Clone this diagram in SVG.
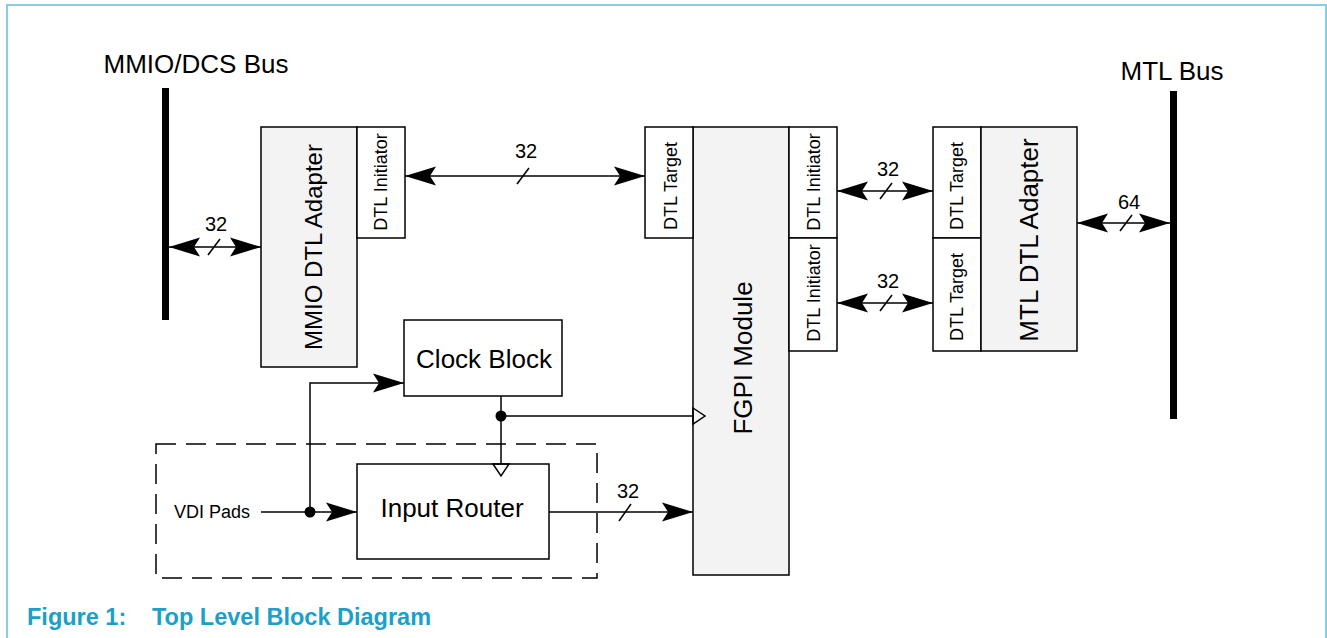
<svg xmlns="http://www.w3.org/2000/svg" width="1327" height="638" viewBox="0 0 1327 638">
<style>
.frame{stroke:#86cfe0;stroke-width:2;fill:none}
.box{stroke:#000;stroke-width:1.5;fill:#fff}
.grey{fill:#f3f3f3}
.bus{fill:#000}
.t{font-family:"Liberation Sans",Arial,sans-serif;fill:#000}
.big{font-size:26px}
.mid{font-size:24px}
.sm{font-size:18px}
.lbl{font-size:20px}
.cap{font-family:"Liberation Sans",Arial,sans-serif;font-size:23.5px;font-weight:bold;fill:#1ba0c8}
.ln{stroke:#000;stroke-width:1.5;fill:none}
.dash{stroke:#000;stroke-width:1.5;fill:none;stroke-dasharray:20 10}
.clk{stroke:#000;stroke-width:1.5;fill:none}
</style>
<defs>
<marker id="ah" markerUnits="userSpaceOnUse" markerWidth="34" markerHeight="24" viewBox="-32 -12 34 24" refX="0" refY="0" orient="auto-start-reverse">
<path d="M0,0 L-31,-9.5 L-25,0 L-31,9.5 Z" fill="#000"/>
</marker>
</defs>
<rect width="1327" height="638" fill="#fff"/>
<path class="frame" d="M7,638 V5 H1326 V638"/>

<g id="mmio-bus">
<rect class="bus" x="162" y="88" width="7" height="232"/>
<text class="t big" x="196" y="73" text-anchor="middle">MMIO/DCS Bus</text>
</g>
<g id="mtl-bus">
<rect class="bus" x="1170" y="91" width="7" height="328"/>
<text class="t big" x="1172" y="80" text-anchor="middle">MTL Bus</text>
</g>

<g id="mmio-adapter">
<rect class="box grey" x="261" y="127" width="96" height="240"/>
<text class="t mid" transform="translate(322,247) rotate(-90)" text-anchor="middle">MMIO DTL Adapter</text>
</g>
<g id="mmio-initiator">
<rect class="box" x="357" y="127" width="48" height="111"/>
<text class="t sm" transform="translate(387,182) rotate(-90)" text-anchor="middle">DTL Initiator</text>
</g>

<g id="fgpi">
<rect class="box grey" x="693" y="127" width="96" height="448"/>
<text class="t big" transform="translate(752,358) rotate(-90)" text-anchor="middle">FGPI Module</text>
<polygon class="clk" points="693,408 705,416 693,424"/>
</g>
<g id="fgpi-target">
<rect class="box" x="645" y="127" width="48" height="111"/>
<text class="t sm" transform="translate(677,186) rotate(-90)" text-anchor="middle">DTL Target</text>
</g>
<g id="fgpi-init1">
<rect class="box" x="789" y="127" width="48" height="111"/>
<text class="t sm" transform="translate(820,182) rotate(-90)" text-anchor="middle">DTL Initiator</text>
</g>
<g id="fgpi-init2">
<rect class="box" x="789" y="238" width="48" height="113"/>
<text class="t sm" transform="translate(820,293) rotate(-90)" text-anchor="middle">DTL Initiator</text>
</g>

<g id="mtl-target1">
<rect class="box" x="933" y="127" width="48" height="111"/>
<text class="t sm" transform="translate(963,186) rotate(-90)" text-anchor="middle">DTL Target</text>
</g>
<g id="mtl-target2">
<rect class="box" x="933" y="238" width="48" height="113"/>
<text class="t sm" transform="translate(963,297) rotate(-90)" text-anchor="middle">DTL Target</text>
</g>
<g id="mtl-adapter">
<rect class="box grey" x="981" y="127" width="96" height="224"/>
<text class="t big" transform="translate(1038,240) rotate(-90)" text-anchor="middle">MTL DTL Adapter</text>
</g>

<g id="clock-block">
<rect class="box" x="404" y="320" width="158" height="76"/>
<text class="t big" x="484" y="368" text-anchor="middle">Clock Block</text>
</g>

<g id="vdi-region">
<rect class="dash" x="156" y="444" width="441" height="134"/>
<text class="t sm" x="212" y="518" text-anchor="middle">VDI Pads</text>
</g>

<g id="input-router">
<rect class="box" x="357" y="464" width="192" height="95"/>
<text class="t big" x="452" y="517" text-anchor="middle">Input Router</text>
<polygon class="clk" points="493,464 501,476 509,464"/>
</g>

<g id="connectors">
<line class="ln" x1="169" y1="247" x2="261" y2="247" marker-start="url(#ah)" marker-end="url(#ah)"/>
<line class="ln" x1="208" y1="255" x2="220" y2="239"/>
<text class="t lbl" x="216" y="231" text-anchor="middle">32</text>

<line class="ln" x1="405" y1="176" x2="645" y2="176" marker-start="url(#ah)" marker-end="url(#ah)"/>
<line class="ln" x1="517" y1="184" x2="529" y2="168"/>
<text class="t lbl" x="526" y="158" text-anchor="middle">32</text>

<line class="ln" x1="837" y1="191" x2="933" y2="191" marker-start="url(#ah)" marker-end="url(#ah)"/>
<line class="ln" x1="880" y1="199" x2="892" y2="183"/>
<text class="t lbl" x="888" y="176" text-anchor="middle">32</text>

<line class="ln" x1="837" y1="303" x2="933" y2="303" marker-start="url(#ah)" marker-end="url(#ah)"/>
<line class="ln" x1="880" y1="311" x2="892" y2="295"/>
<text class="t lbl" x="888" y="288" text-anchor="middle">32</text>

<line class="ln" x1="1077" y1="223" x2="1170" y2="223" marker-start="url(#ah)" marker-end="url(#ah)"/>
<line class="ln" x1="1120" y1="231" x2="1132" y2="215"/>
<text class="t lbl" x="1129" y="209" text-anchor="middle">64</text>

<line class="ln" x1="261" y1="512" x2="357" y2="512" marker-end="url(#ah)"/>
<path class="ln" d="M310,512 V383 H404" marker-end="url(#ah)"/>
<circle cx="310" cy="512" r="5.5" fill="#000"/>

<line class="ln" x1="501" y1="396" x2="501" y2="464"/>
<line class="ln" x1="501" y1="416" x2="693" y2="416"/>
<circle cx="501" cy="416" r="5.5" fill="#000"/>

<line class="ln" x1="549" y1="512" x2="693" y2="512" marker-end="url(#ah)"/>
<line class="ln" x1="619" y1="521" x2="631" y2="504"/>
<text class="t lbl" x="628" y="498" text-anchor="middle">32</text>
</g>

<g id="caption">
<text class="cap" x="27" y="625">Figure 1:</text>
<text class="cap" x="152" y="625">Top Level Block Diagram</text>
</g>
</svg>
